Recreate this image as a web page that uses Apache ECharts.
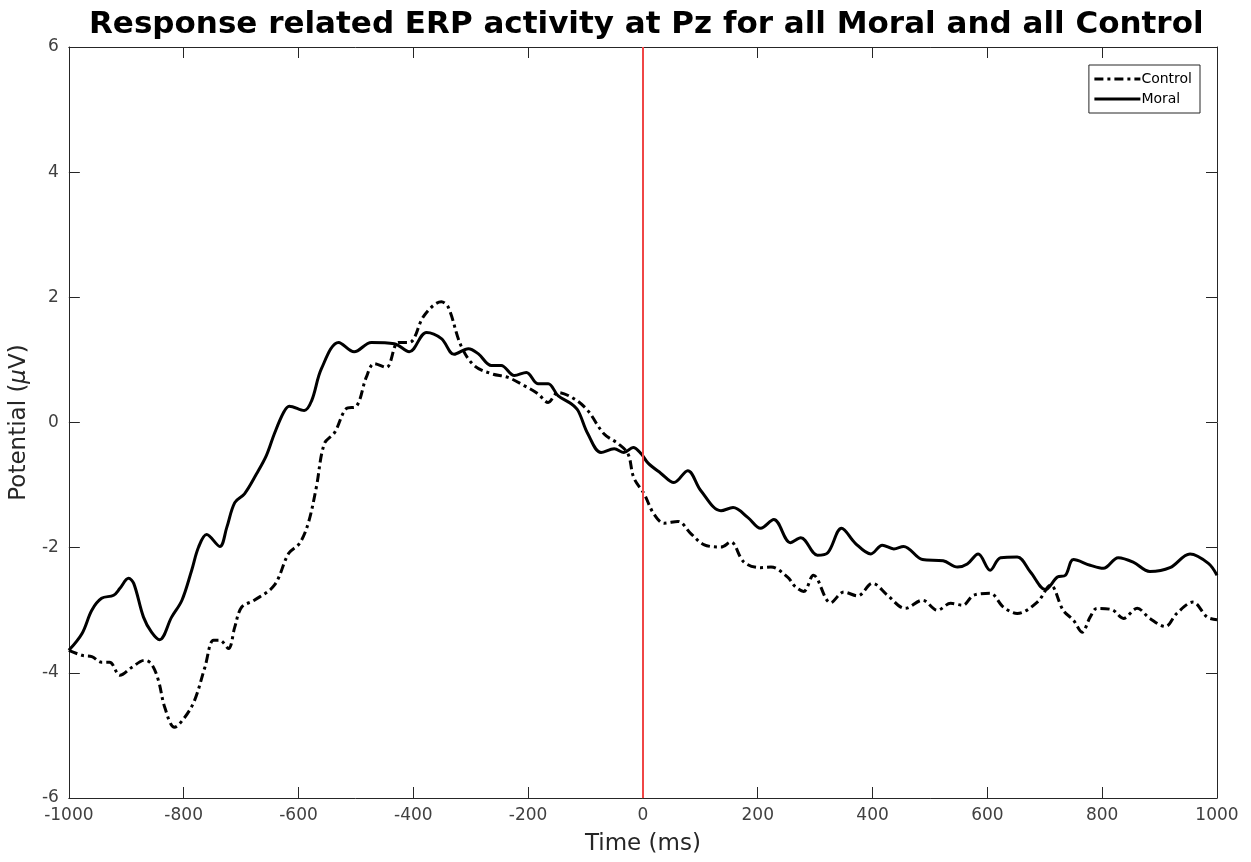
<!DOCTYPE html>
<html><head><meta charset="utf-8">
<script src="https://cdn.jsdelivr.net/npm/echarts@6/dist/echarts.min.js"></script>
<style>html,body{margin:0;padding:0;background:#fff}#c{width:1251px;height:862px}</style>
</head><body><div id="c"></div>
<script>
const titleText = 'Response related ERP activity at Pz for all Moral and all Control';
const xTicks = [-1000,-800,-600,-400,-200,0,200,400,600,800,1000];
const yTicks = [-6,-4,-2,0,2,4,6];
const moralT = [-1000,-977,-960,-943,-922,-911,-896,-887,-870,-856,-842,-821,-803,-786,-774,-760,-737,-725,-711,-694,-673,-656,-642,-626,-616,-590,-577,-560,-530,-503,-473,-433,-407,-377,-351,-329,-304,-287,-264,-247,-224,-203,-183,-165,-148,-125,-113,-96,-73,-50,-33,-17,-3,9,31,54,78,101,136,157,183,205,228,257,275,304,322,346,370,397,417,437,454,487,523,548,565,584,605,623,652,675,701,722,736,750,779,802,828,854,883,918,953,985,1000];
const moralV = [-3.64,-3.37,-3.00,-2.81,-2.76,-2.65,-2.49,-2.57,-3.11,-3.35,-3.47,-3.11,-2.84,-2.36,-1.99,-1.79,-1.98,-1.68,-1.28,-1.14,-0.82,-0.53,-0.18,0.16,0.26,0.19,0.35,0.86,1.28,1.13,1.28,1.26,1.13,1.44,1.34,1.09,1.18,1.10,0.91,0.91,0.75,0.80,0.62,0.62,0.43,0.30,0.19,-0.18,-0.48,-0.42,-0.48,-0.40,-0.50,-0.65,-0.81,-0.96,-0.77,-1.09,-1.41,-1.36,-1.52,-1.69,-1.55,-1.92,-1.84,-2.12,-2.08,-1.69,-1.93,-2.10,-1.96,-2.02,-1.98,-2.19,-2.21,-2.31,-2.26,-2.10,-2.36,-2.16,-2.15,-2.39,-2.67,-2.47,-2.44,-2.19,-2.28,-2.33,-2.16,-2.23,-2.38,-2.32,-2.10,-2.25,-2.44];
const controlT = [-1000,-977,-960,-943,-929,-911,-890,-868,-856,-844,-833,-816,-798,-781,-763,-748,-737,-722,-711,-699,-677,-642,-617,-598,-583,-569,-555,-537,-517,-499,-482,-468,-447,-426,-407,-381,-351,-339,-317,-294,-264,-235,-207,-183,-165,-148,-120,-96,-68,-43,-26,-16,2,19,37,61,83,106,136,153,176,205,223,252,265,280,297,327,350,374,400,426,457,487,513,536,557,576,605,628,652,687,710,732,750,765,779,791,817,837,861,883,910,930,958,983,1000];
const controlV = [-3.64,-3.72,-3.74,-3.83,-3.83,-4.04,-3.91,-3.80,-3.86,-4.12,-4.55,-4.87,-4.71,-4.44,-3.91,-3.48,-3.48,-3.61,-3.27,-2.95,-2.84,-2.60,-2.09,-1.93,-1.61,-1.04,-0.34,-0.16,0.22,0.26,0.72,0.94,0.88,1.28,1.28,1.71,1.93,1.84,1.23,0.91,0.78,0.72,0.59,0.46,0.32,0.48,0.38,0.19,-0.18,-0.34,-0.50,-0.88,-1.14,-1.46,-1.61,-1.58,-1.77,-1.95,-1.99,-1.91,-2.23,-2.32,-2.31,-2.47,-2.62,-2.70,-2.44,-2.88,-2.71,-2.77,-2.57,-2.76,-2.97,-2.84,-3.00,-2.89,-2.92,-2.76,-2.73,-2.95,-3.05,-2.87,-2.60,-3.00,-3.16,-3.35,-3.11,-2.97,-2.99,-3.13,-2.97,-3.13,-3.26,-3.05,-2.87,-3.11,-3.15];
const seriesNames = ['Control','Moral'];
const markerX = 0;

const pair = (t, v) => t.map((x, i) => [x, v[i]]);
const axisColor = '#262626';
const labelColor = '#404040';
const font = 'DejaVu Sans';
const chart = echarts.init(document.getElementById('c'), null, {renderer: 'canvas'});
const xBase = {type:'value', min:-1000, max:1000, interval:200,
  axisLine:{show:true, onZero:false, lineStyle:{color:axisColor, width:1}},
  axisTick:{show:true, inside:true, length:11, lineStyle:{color:axisColor}},
  splitLine:{show:false}};
const yBase = {type:'value', min:-6, max:6, interval:2,
  axisLine:{show:true, onZero:false, lineStyle:{color:axisColor, width:1}},
  axisTick:{show:true, inside:true, length:11, lineStyle:{color:axisColor}},
  splitLine:{show:false}};
chart.setOption({
  animation:false,
  backgroundColor:'#fff',
  title:{text:titleText, left:84, top:4,
    textStyle:{fontFamily:font, fontWeight:'bold', fontSize:31, color:'#000'}},
  grid:{left:67, right:34, top:47, bottom:64},
  legend:{orient:'vertical', right:51, top:65, itemWidth:46, itemHeight:14, itemGap:6,
    padding:[7,8,7,4], borderColor:'#262626', borderWidth:1, backgroundColor:'#fff',
    itemStyle:{opacity:0}, lineStyle:{width:3},
    textStyle:{fontFamily:font, fontSize:14, color:'#000', padding:[0,0,0,-4]},
    data:seriesNames},
  xAxis:[
    Object.assign({}, xBase, {position:'bottom',
      axisLabel:{show:true, margin:9, fontFamily:font, fontSize:17, color:labelColor,
        formatter:v=>xTicks.includes(v)?String(v):''},
      name:'Time (ms)', nameLocation:'middle', nameGap:35,
      nameTextStyle:{fontFamily:font, fontSize:23, color:axisColor}}),
    Object.assign({}, xBase, {position:'top', axisLabel:{show:false}})
  ],
  yAxis:[
    Object.assign({}, yBase, {position:'left',
      axisLabel:{show:true, margin:10, fontFamily:font, fontSize:17, color:labelColor,
        formatter:v=>yTicks.includes(v)?String(v):''},
      name:'{n|Potential (}{i|μ}{n|V)}', nameLocation:'middle', nameGap:37,
      nameTextStyle:{rich:{n:{fontFamily:font, fontSize:23, color:axisColor},
        i:{fontFamily:font, fontSize:23, fontStyle:'italic', color:axisColor}}}}),
    Object.assign({}, yBase, {position:'right', axisLabel:{show:false}})
  ],
  series:[
    {name:seriesNames[0], type:'line', data:pair(controlT, controlV), showSymbol:false,
      smooth:0.35, lineStyle:{color:'#000', width:3, type:[9,4,3,4]}, itemStyle:{color:'#000'}, z:3},
    {name:seriesNames[1], type:'line', data:pair(moralT, moralV), showSymbol:false,
      smooth:0.35, lineStyle:{color:'#000', width:3, type:'solid'}, itemStyle:{color:'#000'}, z:4,
      markLine:{silent:true, symbol:['none','none'], label:{show:false},
        lineStyle:{color:'#f04646', width:2, type:'solid'},
        data:[{xAxis:markerX}]}}
  ]
});
</script></body></html>
